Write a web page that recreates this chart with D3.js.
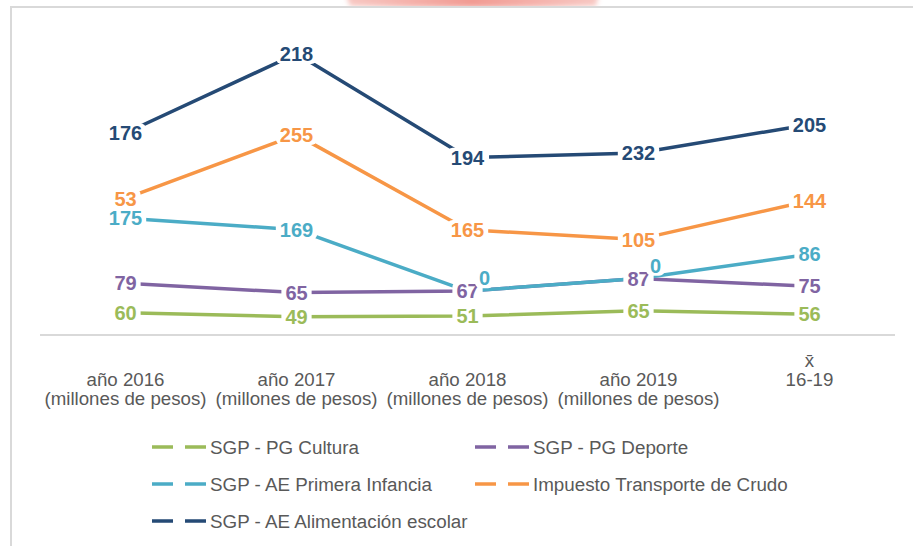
<!DOCTYPE html>
<html>
<head>
<meta charset="utf-8">
<script src="https://cdn.jsdelivr.net/npm/d3@7"></script>
<style>
  html, body { margin: 0; padding: 0; background: #ffffff; }
  svg { display: block; }
</style>
</head>
<body>
<svg id="chart" width="913" height="546"></svg>
<script>
// Categories (x axis): each is an array of text lines
const categories = ["2016", "2017", "2018", "2019", "mean"];
const tickLabels = [
  ["año 2016", "(millones de pesos)"],
  ["año 2017", "(millones de pesos)"],
  ["año 2018", "(millones de pesos)"],
  ["año 2019", "(millones de pesos)"],
  ["x\u0304", "16-19"]
];

// Series, in stacking order (bottom to top)
const seriesNames = [
  "SGP - PG Cultura",
  "SGP - PG Deporte",
  "SGP - AE Primera Infancia",
  "Impuesto Transporte de Crudo",
  "SGP - AE Alimentación escolar"
];
const cultura      = [60, 49, 51, 65, 56];
const deporte      = [79, 65, 67, 87, 75];
const primera      = [175, 169, 0, 0, 86];
const impuesto     = [53, 255, 165, 105, 144];
const alimentacion = [176, 218, 194, 232, 205];
const seriesColors = ["#9bbb59", "#8064a2", "#4bacc6", "#f79646", "#254a75"];

// Legend layout: two columns, filled row by row
const legendOrder = [0, 1, 2, 3, 4];

const svg = d3.select("#chart");

// Soft decorative shape cut by the top edge
const defs = svg.append("defs");
defs.append("filter").attr("id", "soft")
  .attr("x", "-20%").attr("y", "-200%").attr("width", "140%").attr("height", "500%")
  .append("feGaussianBlur").attr("stdDeviation", 2.5);
const grad = defs.append("linearGradient").attr("id", "pinkGrad")
  .attr("x1", "0").attr("x2", "1").attr("y1", "0").attr("y2", "0");
grad.append("stop").attr("offset", "0%").attr("stop-color", "#f8c9c4");
grad.append("stop").attr("offset", "50%").attr("stop-color", "#f19a92");
grad.append("stop").attr("offset", "100%").attr("stop-color", "#f8c9c4");
svg.append("path")
  .attr("d", "M344,-10 L600,-10 L596,6 Q470,9 350,6 Z")
  .attr("fill", "url(#pinkGrad)")
  .attr("filter", "url(#soft)");

// Chart frame (top and left edges visible)
svg.append("rect").attr("x", 11).attr("y", 7).attr("width", 920).attr("height", 560)
  .attr("fill", "#ffffff").attr("stroke", "#d9d9d9").attr("stroke-width", 2);

// Stack the series
const raw = [cultura, deporte, primera, impuesto, alimentacion];
const cumulative = [];
raw.forEach((vals, s) => {
  cumulative.push(vals.map((v, i) => v + (s > 0 ? cumulative[s - 1][i] : 0)));
});

// Scales
const x = d3.scaleBand().domain(categories).range([40, 895]);
const y = d3.scaleLinear().domain([0, 800]).range([335, 37.4]);
const cx = c => x(c) + x.bandwidth() / 2;

// Category axis line
svg.append("line")
  .attr("x1", x.range()[0]).attr("x2", x.range()[1])
  .attr("y1", y(0)).attr("y2", y(0))
  .attr("stroke", "#d9d9d9").attr("stroke-width", 2);

// Category labels
const tickG = svg.append("g")
  .attr("font-family", "'Liberation Sans', Arial, sans-serif")
  .attr("font-size", 18.7).attr("fill", "#595959").attr("text-anchor", "middle");
categories.forEach((c, i) => {
  const lines = tickLabels[i];
  const shift = lines[0].startsWith("x") ? -1 : 0; // symbol line sits one line higher
  lines.forEach((t, j) => {
    tickG.append("text")
      .attr("x", cx(c))
      .attr("y", 386 + (j + shift) * 19)
      .text(t);
  });
});

// Lines
const lineGen = d3.line().x((d, i) => cx(categories[i])).y(d => y(d));
const linesG = svg.append("g");
cumulative.forEach((vals, s) => {
  linesG.append("path")
    .datum(vals)
    .attr("d", lineGen)
    .attr("fill", "none")
    .attr("stroke", seriesColors[s])
    .attr("stroke-width", 3.5)
    .attr("stroke-linejoin", "round");
});

// Data labels with white boxes, centred on the points
const labelsG = svg.append("g")
  .attr("font-family", "'Liberation Sans', Arial, sans-serif")
  .attr("font-weight", "bold").attr("font-size", 20);
raw.forEach((vals, s) => {
  vals.forEach((v, i) => {
    // zero values coincide with the series below: label nudged up and right
    const dx = v === 0 ? 17 : 0;
    const dy = v === 0 ? -13 : 0;
    const px = cx(categories[i]) + dx;
    const py = y(cumulative[s][i]) + dy;
    const g = labelsG.append("g");
    const rect = g.append("rect").attr("fill", "#ffffff").attr("rx", 6);
    const t = g.append("text")
      .attr("x", px).attr("y", py).attr("dy", "0.36em")
      .attr("text-anchor", "middle")
      .attr("fill", seriesColors[s])
      .text(v);
    const bb = t.node().getBBox();
    rect.attr("x", bb.x - 4).attr("y", bb.y + 1)
      .attr("width", bb.width + 8).attr("height", bb.height - 2);
  });
});

// Legend
const legendG = svg.append("g")
  .attr("font-family", "'Liberation Sans', Arial, sans-serif")
  .attr("font-size", 18.8).attr("fill", "#595959");
const colX = [152, 475];
const rowY = [447, 484, 521];
legendOrder.forEach((s, k) => {
  const lx = colX[k % 2];
  const ly = rowY[Math.floor(k / 2)];
  legendG.append("line")
    .attr("x1", lx).attr("x2", lx + 55)
    .attr("y1", ly).attr("y2", ly)
    .attr("stroke", seriesColors[s]).attr("stroke-width", 3.5)
    .attr("stroke-dasharray", "21,12");
  legendG.append("text")
    .attr("x", lx + 58).attr("y", ly).attr("dy", "0.35em")
    .text(seriesNames[s]);
});
</script>
</body>
</html>
